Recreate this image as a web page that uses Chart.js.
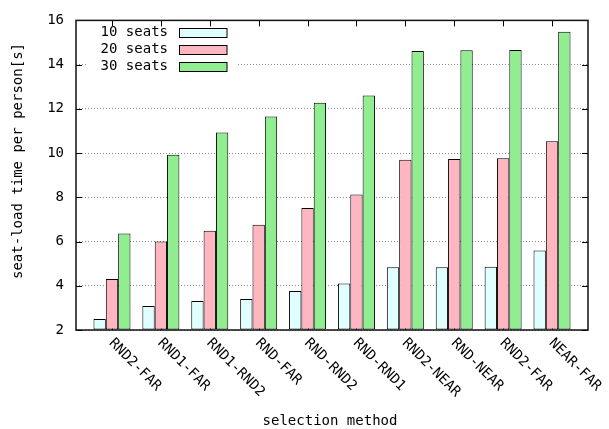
<!DOCTYPE html>
<html>
<head>
<meta charset="utf-8">
<script src="https://cdn.jsdelivr.net/npm/chart.js@4.4.1/dist/chart.umd.min.js"></script>
<style>
  html, body { margin: 0; padding: 0; background: #fff; }
  canvas { display: block; }
</style>
</head>
<body>
<canvas id="c" width="609" height="429"></canvas>
<script>
const methods = ["RND2-FAR","RND1-FAR","RND1-RND2","RND-FAR","RND-RND2","RND-RND1","RND2-NEAR","RND-NEAR","RND2-FAR","NEAR-FAR"];
const seats10 = [2.5, 3.09, 3.31, 3.4, 3.76, 4.1, 4.84, 4.84, 4.86, 5.6];
const seats20 = [4.31, 6.0, 6.49, 6.76, 7.52, 8.13, 9.7, 9.73, 9.77, 10.53];
const seats30 = [6.36, 9.92, 10.93, 11.66, 12.28, 12.6, 14.62, 14.65, 14.66, 15.49];
const yTicks = [2, 4, 6, 8, 10, 12, 14, 16];
const seriesNames = ["10 seats", "20 seats", "30 seats"];
const seriesColors = ["#e0ffff", "#ffb6c1", "#90ee90"];

const FONT = "DejaVu Sans Mono";

function pts(arr){ return arr.map((v,i)=>({x:i, y:v})); }

const extras = {
  id: "extras",
  beforeDatasetsDraw(chart){
    const ctx = chart.ctx, a = chart.chartArea;
    const xs = chart.scales.x, ys = chart.scales.y;
    ctx.save();
    // white box behind key
    ctx.fillStyle = "#fff";
    ctx.fillRect(86, 22, 151, 54);
    // inward tics
    ctx.strokeStyle = "#000";
    ctx.lineWidth = 1;
    ctx.beginPath();
    yTicks.forEach(t=>{
      const y = Math.round(ys.getPixelForValue(t)) + 0.5;
      ctx.moveTo(a.left, y); ctx.lineTo(a.left + 6, y);
      ctx.moveTo(a.right, y); ctx.lineTo(a.right - 6, y);
    });
    methods.forEach((m,i)=>{
      const x = Math.round(xs.getPixelForValue(i)) + 0.5;
      ctx.moveTo(x, a.top); ctx.lineTo(x, a.top + 6);
      ctx.moveTo(x, a.bottom); ctx.lineTo(x, a.bottom - 6);
    });
    ctx.stroke();
    ctx.restore();
  },
  afterDatasetsDraw(chart){
    const ctx = chart.ctx, a = chart.chartArea;
    const xs = chart.scales.x;
    ctx.save();
    // border
    ctx.strokeStyle = "#111";
    ctx.lineWidth = 1.5;
    ctx.strokeRect(a.left, a.top, a.right - a.left, a.bottom - a.top);

    // key
    ctx.font = "14px '" + FONT + "'";
    ctx.textAlign = "right";
    ctx.textBaseline = "middle";
    chart.data.datasets.forEach((ds,i)=>{
      const y = 32 + i * 17.3;
      ctx.fillStyle = "#000";
      ctx.fillText(ds.label, 168, y);
      ctx.fillStyle = ds.backgroundColor;
      ctx.fillRect(179.5, Math.round(y - 4.5) + 0.5, 47.5, 9);
      ctx.strokeStyle = "#000";
      ctx.lineWidth = 1;
      ctx.strokeRect(179.5, Math.round(y - 4.5) + 0.5, 47.5, 9);
    });

    // x tick labels, rotated
    ctx.fillStyle = "#000";
    ctx.textAlign = "left";
    ctx.textBaseline = "middle";
    methods.forEach((m,i)=>{
      const x = xs.getPixelForValue(i);
      ctx.save();
      ctx.translate(x - 1, 341);
      ctx.rotate(Math.PI / 4);
      ctx.fillText(m, 0, 0);
      ctx.restore();
    });

    // axis titles
    ctx.textAlign = "center";
    ctx.fillText("selection method", 330, 421);
    ctx.save();
    ctx.translate(18.5, 161);
    ctx.rotate(-Math.PI / 2);
    ctx.fillText("seat-load time per person[s]", 0, 0);
    ctx.restore();
    ctx.restore();
  }
};

new Chart(document.getElementById("c"), {
  type: "bar",
  data: {
    datasets: [
      { label: seriesNames[0], data: pts(seats10), backgroundColor: seriesColors[0] },
      { label: seriesNames[1], data: pts(seats20), backgroundColor: seriesColors[1] },
      { label: seriesNames[2], data: pts(seats30), backgroundColor: seriesColors[2] },
    ].map(d=>Object.assign(d, { borderColor: "#000", borderWidth: 1, borderSkipped: false, base: 2 }))
  },
  options: {
    responsive: false,
    animation: false,
    events: [],
    categoryPercentage: 0.757,
    barPercentage: 1,
    layout: { padding: { left: 0, right: 21, top: 17, bottom: 99 } },
    plugins: { legend: { display: false }, tooltip: { enabled: false } },
    scales: {
      x: {
        type: "linear",
        min: -0.736,
        max: 9.736,
        offset: false,
        grid: { display: false },
        border: { display: false },
        ticks: { display: false },
        afterFit(s){ s.height = 0; }
      },
      y: {
        min: 2,
        max: 16,
        afterBuildTicks(s){ s.ticks = yTicks.map(v=>({value:v})); },
        grid: { color: "#8a8a8a", lineWidth: 1, drawTicks: false },
        border: { display: false, dash: [1, 2] },
        ticks: {
          padding: 12,
          color: "#000",
          font: { family: FONT, size: 14 }
        },
        afterFit(s){ s.width = 76; }
      }
    }
  },
  plugins: [extras]
});
</script>
</body>
</html>
